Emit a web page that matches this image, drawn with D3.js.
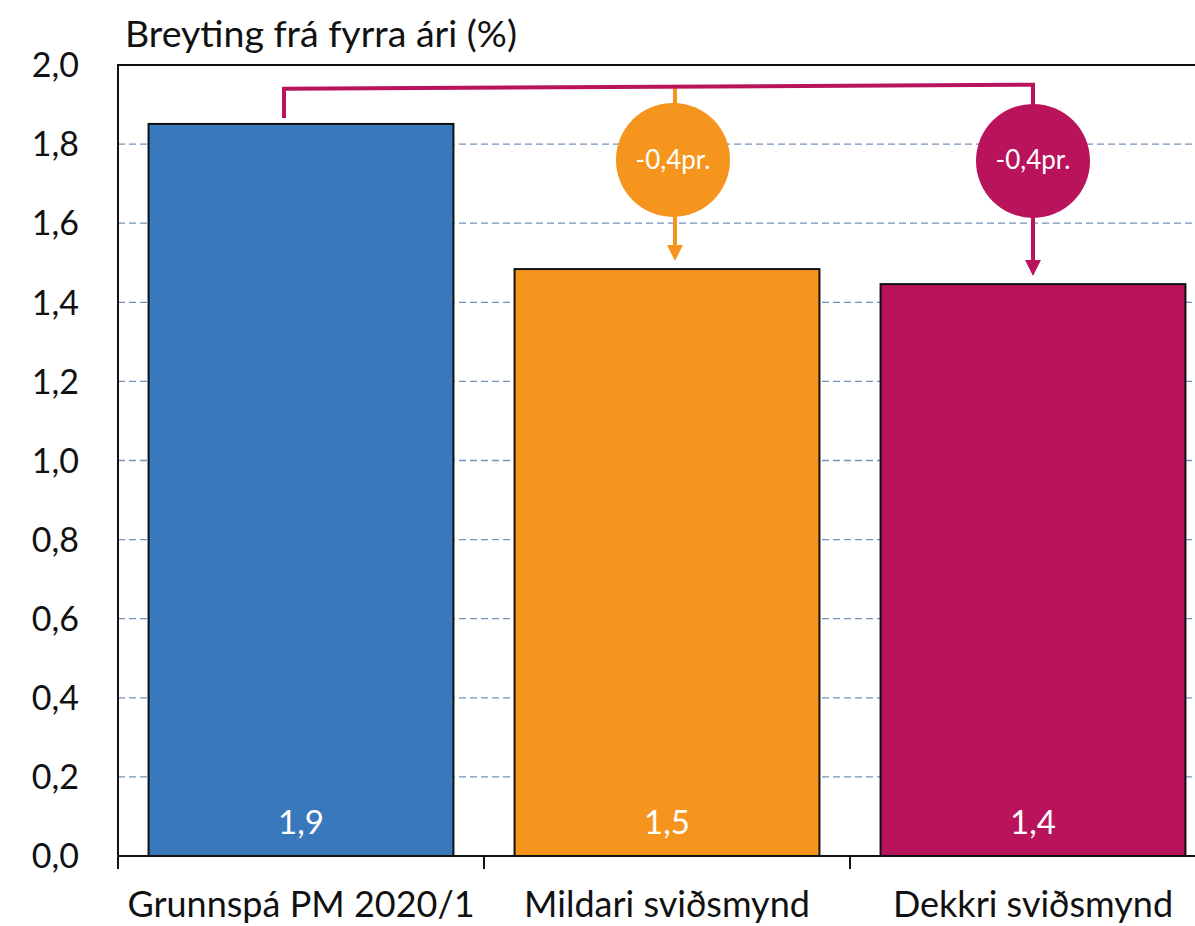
<!DOCTYPE html>
<html>
<head>
<meta charset="utf-8">
<script src="https://cdn.jsdelivr.net/npm/d3@7"></script>
<style>
  body { margin: 0; background: #fff; }
  svg text { font-family: Lato, "Open Sans", sans-serif; fill: #111; }
</style>
</head>
<body>
<div id="chart"></div>
<script>
// data
var categories = ["Grunnspá PM 2020/1", "Mildari sviðsmynd", "Dekkri sviðsmynd"];
var values = [1.851, 1.484, 1.446];
var valueLabels = ["1,9", "1,5", "1,4"];
var changeLabels = ["-0,4pr.", "-0,4pr."];
var yTicks = [0, 0.2, 0.4, 0.6, 0.8, 1.0, 1.2, 1.4, 1.6, 1.8, 2.0];
var colors = ["#3878bb", "#f6951e", "#b9135c"];

(function() {
  var width = 1195, height = 926;
  var m = { left: 118, top: 65, bottom: 856, right: 1216 };

  var svg = d3.select("#chart").append("svg")
    .attr("width", width)
    .attr("height", height);

  var x = d3.scaleBand()
    .domain(categories)
    .range([m.left, m.right])
    .paddingInner(0.167)
    .paddingOuter(0.0835);

  var y = d3.scaleLinear()
    .domain([0, 2])
    .range([m.bottom, m.top]);

  var fmt = function(d) { return d3.format(".1f")(d).replace(".", ","); };

  // gridlines
  svg.append("g")
    .selectAll("line")
    .data(yTicks.filter(function(d) { return d > 0 && d < 2; }))
    .enter().append("line")
    .attr("x1", m.left).attr("x2", m.right)
    .attr("y1", function(d) { return y(d); })
    .attr("y2", function(d) { return y(d); })
    .attr("stroke", "#7391b9")
    .attr("stroke-width", 1.3)
    .attr("stroke-dasharray", "7,4");

  // y tick labels
  svg.append("g")
    .selectAll("text")
    .data(yTicks)
    .enter().append("text")
    .attr("x", 79)
    .attr("y", function(d) { return y(d); })
    .attr("dy", "0.36em")
    .attr("text-anchor", "end")
    .style("font-size", "34px")
    .text(fmt);

  // title
  svg.append("text")
    .attr("x", 125)
    .attr("y", 47)
    .style("font-size", "37.5px")
    .text("Breyting frá fyrra ári (%)");

  // bars
  svg.append("g")
    .selectAll("rect")
    .data(values)
    .enter().append("rect")
    .attr("x", function(d, i) { return x(categories[i]); })
    .attr("width", x.bandwidth())
    .attr("y", function(d) { return y(d); })
    .attr("height", function(d) { return y(0) - y(d); })
    .attr("fill", function(d, i) { return colors[i]; })
    .attr("stroke", "#111")
    .attr("stroke-width", 2);

  // value labels
  svg.append("g")
    .selectAll("text")
    .data(valueLabels)
    .enter().append("text")
    .attr("x", function(d, i) { return x(categories[i]) + x.bandwidth() / 2; })
    .attr("y", 834)
    .attr("text-anchor", "middle")
    .style("font-size", "33px")
    .style("fill", "#fff")
    .text(function(d) { return d; });

  // frame
  svg.append("path")
    .attr("d", "M" + m.right + "," + m.top + "H" + m.left + "V" + m.bottom + "H" + m.right)
    .attr("fill", "none")
    .attr("stroke", "#111")
    .attr("stroke-width", 2);

  // x ticks at band edges
  var edges = categories.map(function(c) { return x(c) - x.step() * 0.0835; }).concat([m.right]);
  svg.append("g")
    .selectAll("line")
    .data(edges)
    .enter().append("line")
    .attr("x1", function(d) { return d; }).attr("x2", function(d) { return d; })
    .attr("y1", m.bottom).attr("y2", m.bottom + 13)
    .attr("stroke", "#111")
    .attr("stroke-width", 2);

  // category labels
  svg.append("g")
    .selectAll("text")
    .data(categories)
    .enter().append("text")
    .attr("x", function(d) { return x(d) + x.bandwidth() / 2; })
    .attr("y", 917)
    .attr("text-anchor", "middle")
    .style("font-size", "36px")
    .text(function(d) { return d; });

  // change annotations
  var cx = function(i) { return x(categories[i]) + x.bandwidth() / 2; };
  var bracketLevel = 1.945;
  var circleLevel = 1.76;
  var r = 57;
  var legX0 = cx(0) - 17, legX1 = cx(1) + 8, legX2 = cx(2);

  // orange stem (under bracket)
  svg.append("line")
    .attr("x1", legX1).attr("x2", legX1)
    .attr("y1", y(bracketLevel)).attr("y2", y(values[1]) - 14)
    .attr("stroke", colors[1]).attr("stroke-width", 4);
  svg.append("path")
    .attr("d", "M" + (legX1 - 8) + "," + (y(values[1]) - 24) + "L" + (legX1 + 8) + "," + (y(values[1]) - 24) + "L" + legX1 + "," + (y(values[1]) - 8) + "Z")
    .attr("fill", colors[1]);

  // magenta bracket
  svg.append("path")
    .attr("d", "M" + legX0 + "," + (y(values[0]) - 6) +
               "V" + (y(bracketLevel) + 2) +
               "L" + legX2 + "," + (y(bracketLevel) - 2) +
               "V" + (y(values[2]) - 14))
    .attr("fill", "none")
    .attr("stroke", colors[2])
    .attr("stroke-width", 4);
  svg.append("path")
    .attr("d", "M" + (legX2 - 8) + "," + (y(values[2]) - 24) + "L" + (legX2 + 8) + "," + (y(values[2]) - 24) + "L" + legX2 + "," + (y(values[2]) - 8) + "Z")
    .attr("fill", colors[2]);

  // circles
  var circ = [{ x: legX1 - 2, i: 1 }, { x: legX2, i: 2 }];
  svg.append("g")
    .selectAll("circle")
    .data(circ)
    .enter().append("circle")
    .attr("cx", function(d) { return d.x; })
    .attr("cy", function(d) { return y(circleLevel) + (d.i === 2 ? 1 : 0); })
    .attr("r", r)
    .attr("fill", function(d) { return colors[d.i]; });

  svg.append("g")
    .selectAll("text")
    .data(circ)
    .enter().append("text")
    .attr("x", function(d) { return d.x; })
    .attr("y", function(d) { return y(circleLevel) + 9; })
    .attr("text-anchor", "middle")
    .style("font-size", "26px")
    .style("fill", "#fff")
    .text(function(d, i) { return changeLabels[i]; });
})();
</script>
</body>
</html>
